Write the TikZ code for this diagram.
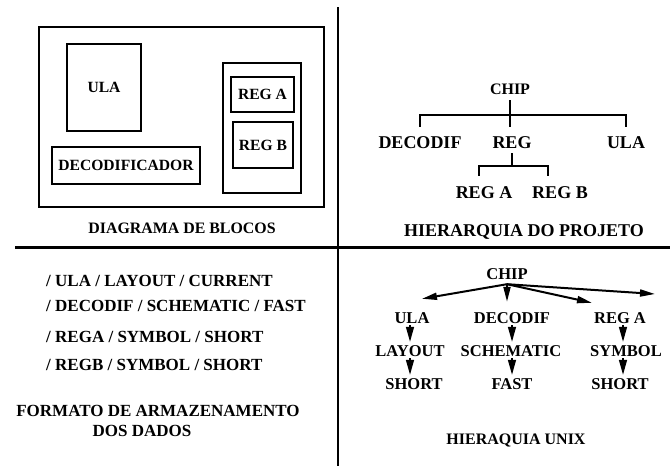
\documentclass[tikz,border=0pt]{standalone}
\usepackage{fontspec}
\setmainfont{Liberation Serif}
\usetikzlibrary{arrows.meta}

\begin{document}
\begin{tikzpicture}[x=1pt, y=-1pt,
    blk/.style={draw, line width=2.4pt, inner sep=0pt, align=center,
                font=\fontsize{15.6}{19}\selectfont\bfseries},
    lbl/.style={inner xsep=1pt, inner ysep=2pt, text height=12pt, text depth=0pt,
                font=\fontsize{#1}{20}\selectfont\bfseries},
    lbl/.default=16.5,
    sep/.style={line width=2.4pt},
    tline/.style={line width=2pt},
    fan/.style={line width=2pt, -{Triangle[length=15pt,width=7pt]}},
    drop/.style={line width=1.5pt, -{Triangle[length=15pt,width=8pt]}}
  ]
    \useasboundingbox (0,0) rectangle (670,466);

    % quadrants
    \draw[sep] (338,7) -- (338,466);
    \draw[sep] (15,247.5) -- (670,247.5);

    % diagrama de blocos
    \node[blk, minimum width=285pt, minimum height=180pt] (chipbox) at (181.5,117) {};
    \node[blk, minimum width=74pt, minimum height=87pt] (ula) at (104,87.5) {ULA};
    \node[blk, minimum width=148pt, minimum height=37pt] (decod) at (126,165.5) {DECODIFICADOR};
    \node[blk, minimum width=78pt, minimum height=130pt] (regbox) at (262,128) {};
    \node[blk, minimum width=63pt, minimum height=35pt] (rega) at (262.5,94.5) {REG A};
    \node[blk, minimum width=60pt, minimum height=46pt] (regb) at (263,145) {REG B};
    \node[lbl=15.9] (blocos) at (182,227) {DIAGRAMA DE BLOCOS};

    % hierarquia do projeto
    \node[lbl=16] (chipT) at (510,88) {CHIP};
    \node[lbl=18] (decT) at (420,142) {DECODIF};
    \node[lbl=18] (regT) at (512,142) {REG};
    \node[lbl=18] (ulaT) at (626,142) {ULA};
    \node[lbl=18] (regaT) at (484,192) {REG A};
    \node[lbl=18] (regbT) at (560,192) {REG B};
    \node[lbl=18] (projeto) at (524,230) {HIERARQUIA DO PROJETO};
    \coordinate (barT) at (510,115);
    \coordinate (barR) at (512,166);
    \draw[tline, shorten <=4pt] (chipT.south) -- (barT);
    \draw[tline] ([yshift=7pt]decT.north) |- (barT) -| ([yshift=7pt]ulaT.north);
    \draw[tline] (barT) -- ++(0,12);
    \draw[tline, shorten <=3pt] (regT.south) -- (barR);
    \draw[tline] ([xshift=-5pt,yshift=8pt]regaT.north) |- (barR) -| ([xshift=-12pt,yshift=8pt]regbT.north);

    % formato de armazenamento
    \node[lbl=17, anchor=west] (row1) at (45,280) {/ ULA / LAYOUT / CURRENT};
    \node[lbl=17, anchor=west] (row2) at (45,305) {/ DECODIF / SCHEMATIC / FAST};
    \node[lbl=17, anchor=west] (row3) at (45,336) {/ REGA / SYMBOL / SHORT};
    \node[lbl=17, anchor=west] (row4) at (45,364) {/ REGB / SYMBOL / SHORT};
    \node[lbl=17] (formato) at (158,410) {FORMATO DE ARMAZENAMENTO};
    \node[lbl=17] (dados) at (142,430) {DOS DADOS};

    % hierarquia unix
    \node[lbl] (chipU) at (507,273) {CHIP};
    \node[lbl] (ulaU) at (412,317) {ULA};
    \node[lbl] (decU) at (512,317) {DECODIF};
    \node[lbl] (regaU) at (620,317) {REG A};
    \node[lbl] (layU) at (410,350) {LAYOUT};
    \node[lbl] (schU) at (511,350) {SCHEMATIC};
    \node[lbl] (symU) at (626,350) {SYMBOL};
    \node[lbl] (shortU) at (414,383) {SHORT};
    \node[lbl] (fastU) at (512,383) {FAST};
    \node[lbl] (shortR) at (620,383) {SHORT};
    \node[lbl=16] (unix) at (516,438) {HIERAQUIA UNIX};
    \coordinate (hub) at ([yshift=-3pt]chipU.south);
    \coordinate (farR) at (655,294);
    \coordinate (decTip) at ([yshift=7pt]decU.north);
    \draw[fan] (hub) -- ([xshift=10pt,yshift=10pt]ulaU.north);
    \draw[fan] (hub) -- (hub |- decTip);
    \draw[fan] (hub) -- ([xshift=-28pt,yshift=6pt]regaU.north);
    \draw[fan] (hub) -- (farR);
    \draw[drop] (layU.north |- ulaU.south) -- (layU.north);
    \draw[drop] (layU.south) -- (layU.south |- shortU.north);
    \draw[drop] (decU.south) -- (decU.south |- schU.north);
    \draw[drop] (fastU.north |- schU.south) -- (fastU.north);
    \draw[drop] ([xshift=3pt]regaU.south) -- ([xshift=3pt]regaU.south |- symU.north);
    \draw[drop] ([xshift=3pt]regaU.south |- symU.south) -- ([xshift=3pt]regaU.south |- shortR.north);
\end{tikzpicture}
\end{document}
